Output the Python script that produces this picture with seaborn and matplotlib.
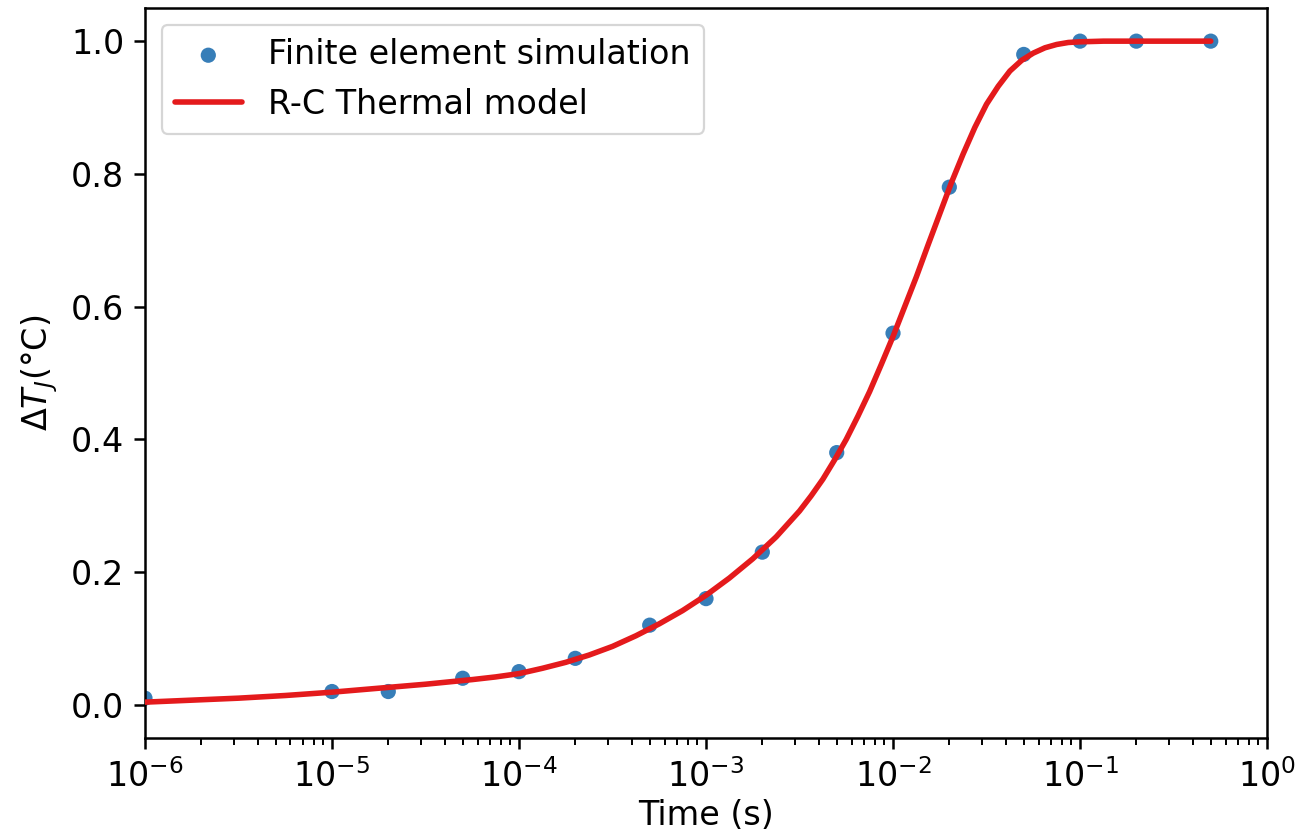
import matplotlib

matplotlib.use("Agg")
import matplotlib.pyplot as plt
import matplotlib.ticker as mticker
import pandas as pd
import seaborn as sns

# finite element simulation points
fe_time = [1e-6, 1e-5, 2e-5, 5e-5, 1e-4, 2e-4, 5e-4, 1e-3, 2e-3, 5e-3,
           1e-2, 2e-2, 5e-2, 1e-1, 2e-1, 5e-1]
fe_dtj = [0.01, 0.02, 0.02, 0.04, 0.05, 0.07, 0.12, 0.16, 0.23, 0.38,
          0.56, 0.78, 0.98, 1.0, 1.0, 1.0]

# R-C thermal model curve (log10 of time)
rc_log_time = [-6.0, -5.75, -5.5, -5.25, -5.0, -4.75, -4.5, -4.25, -4.125,
               -4.0, -3.875, -3.75, -3.625, -3.5, -3.375, -3.25, -3.125,
               -3.0, -2.875, -2.75, -2.625, -2.5, -2.4375, -2.375, -2.3125,
               -2.25, -2.1875, -2.125, -2.0625, -2.0, -1.9375, -1.875,
               -1.8125, -1.75, -1.6875, -1.625, -1.5625, -1.5, -1.4375,
               -1.375, -1.3125, -1.25, -1.1875, -1.125, -1.0625, -1.0,
               -0.875, -0.75, -0.5, -0.301]
rc_dtj = [0.004, 0.007, 0.010, 0.014, 0.019, 0.025, 0.031, 0.038, 0.042,
          0.047, 0.055, 0.064, 0.075, 0.088, 0.104, 0.122, 0.142,
          0.165, 0.191, 0.220, 0.253, 0.292, 0.315, 0.340, 0.369,
          0.400, 0.435, 0.472, 0.513, 0.555, 0.600, 0.645,
          0.693, 0.740, 0.787, 0.830, 0.870, 0.905, 0.932,
          0.955, 0.971, 0.982, 0.990, 0.995, 0.998, 0.999,
          1.0, 1.0, 1.0, 1.0]

df_fe = pd.DataFrame({"time": fe_time, "dtj": fe_dtj})
df_rc = pd.DataFrame({"time": [10 ** v for v in rc_log_time], "dtj": rc_dtj})

sns.set_theme(style="ticks", context="paper")
plt.rcParams["font.family"] = ["DejaVu Sans"]
plt.rcParams["text.color"] = "black"
plt.rcParams["axes.labelcolor"] = "black"
plt.rcParams["xtick.color"] = "black"
plt.rcParams["ytick.color"] = "black"
pal = sns.color_palette("Set1")

fig, ax = plt.subplots(figsize=(6.495, 4.195), dpi=200)
fig.subplots_adjust(left=0.1116, right=0.9754, top=0.9905, bottom=0.1204)

sns.scatterplot(data=df_fe, x="time", y="dtj", ax=ax, color=pal[1], s=30,
                edgecolor="none", label="Finite element simulation", zorder=2)
sns.lineplot(data=df_rc, x="time", y="dtj", ax=ax, color=pal[0], lw=2.0,
             label="R-C Thermal model", zorder=3)

ax.set_xscale("log")
ax.set_xlim(1e-6, 1e0)
ax.set_ylim(-0.05, 1.05)
ax.set_yticks([0.0, 0.2, 0.4, 0.6, 0.8, 1.0])
ax.xaxis.set_minor_formatter(mticker.NullFormatter())
ax.set_xlabel("Time (s)", fontsize=12, labelpad=2)
ax.set_ylabel(r"$\Delta T_J$(°C)", fontsize=12)
ax.tick_params(axis="both", which="major", labelsize=12, length=4, width=0.9)
ax.tick_params(axis="x", which="minor", length=2.5, width=0.7)
for sp in ax.spines.values():
    sp.set_color("black")
    sp.set_linewidth(0.9)

leg = ax.legend(loc="upper left", fontsize=12, frameon=True)
for t in leg.get_texts():
    t.set_color("black")

fig.savefig("out.png", dpi=200)
